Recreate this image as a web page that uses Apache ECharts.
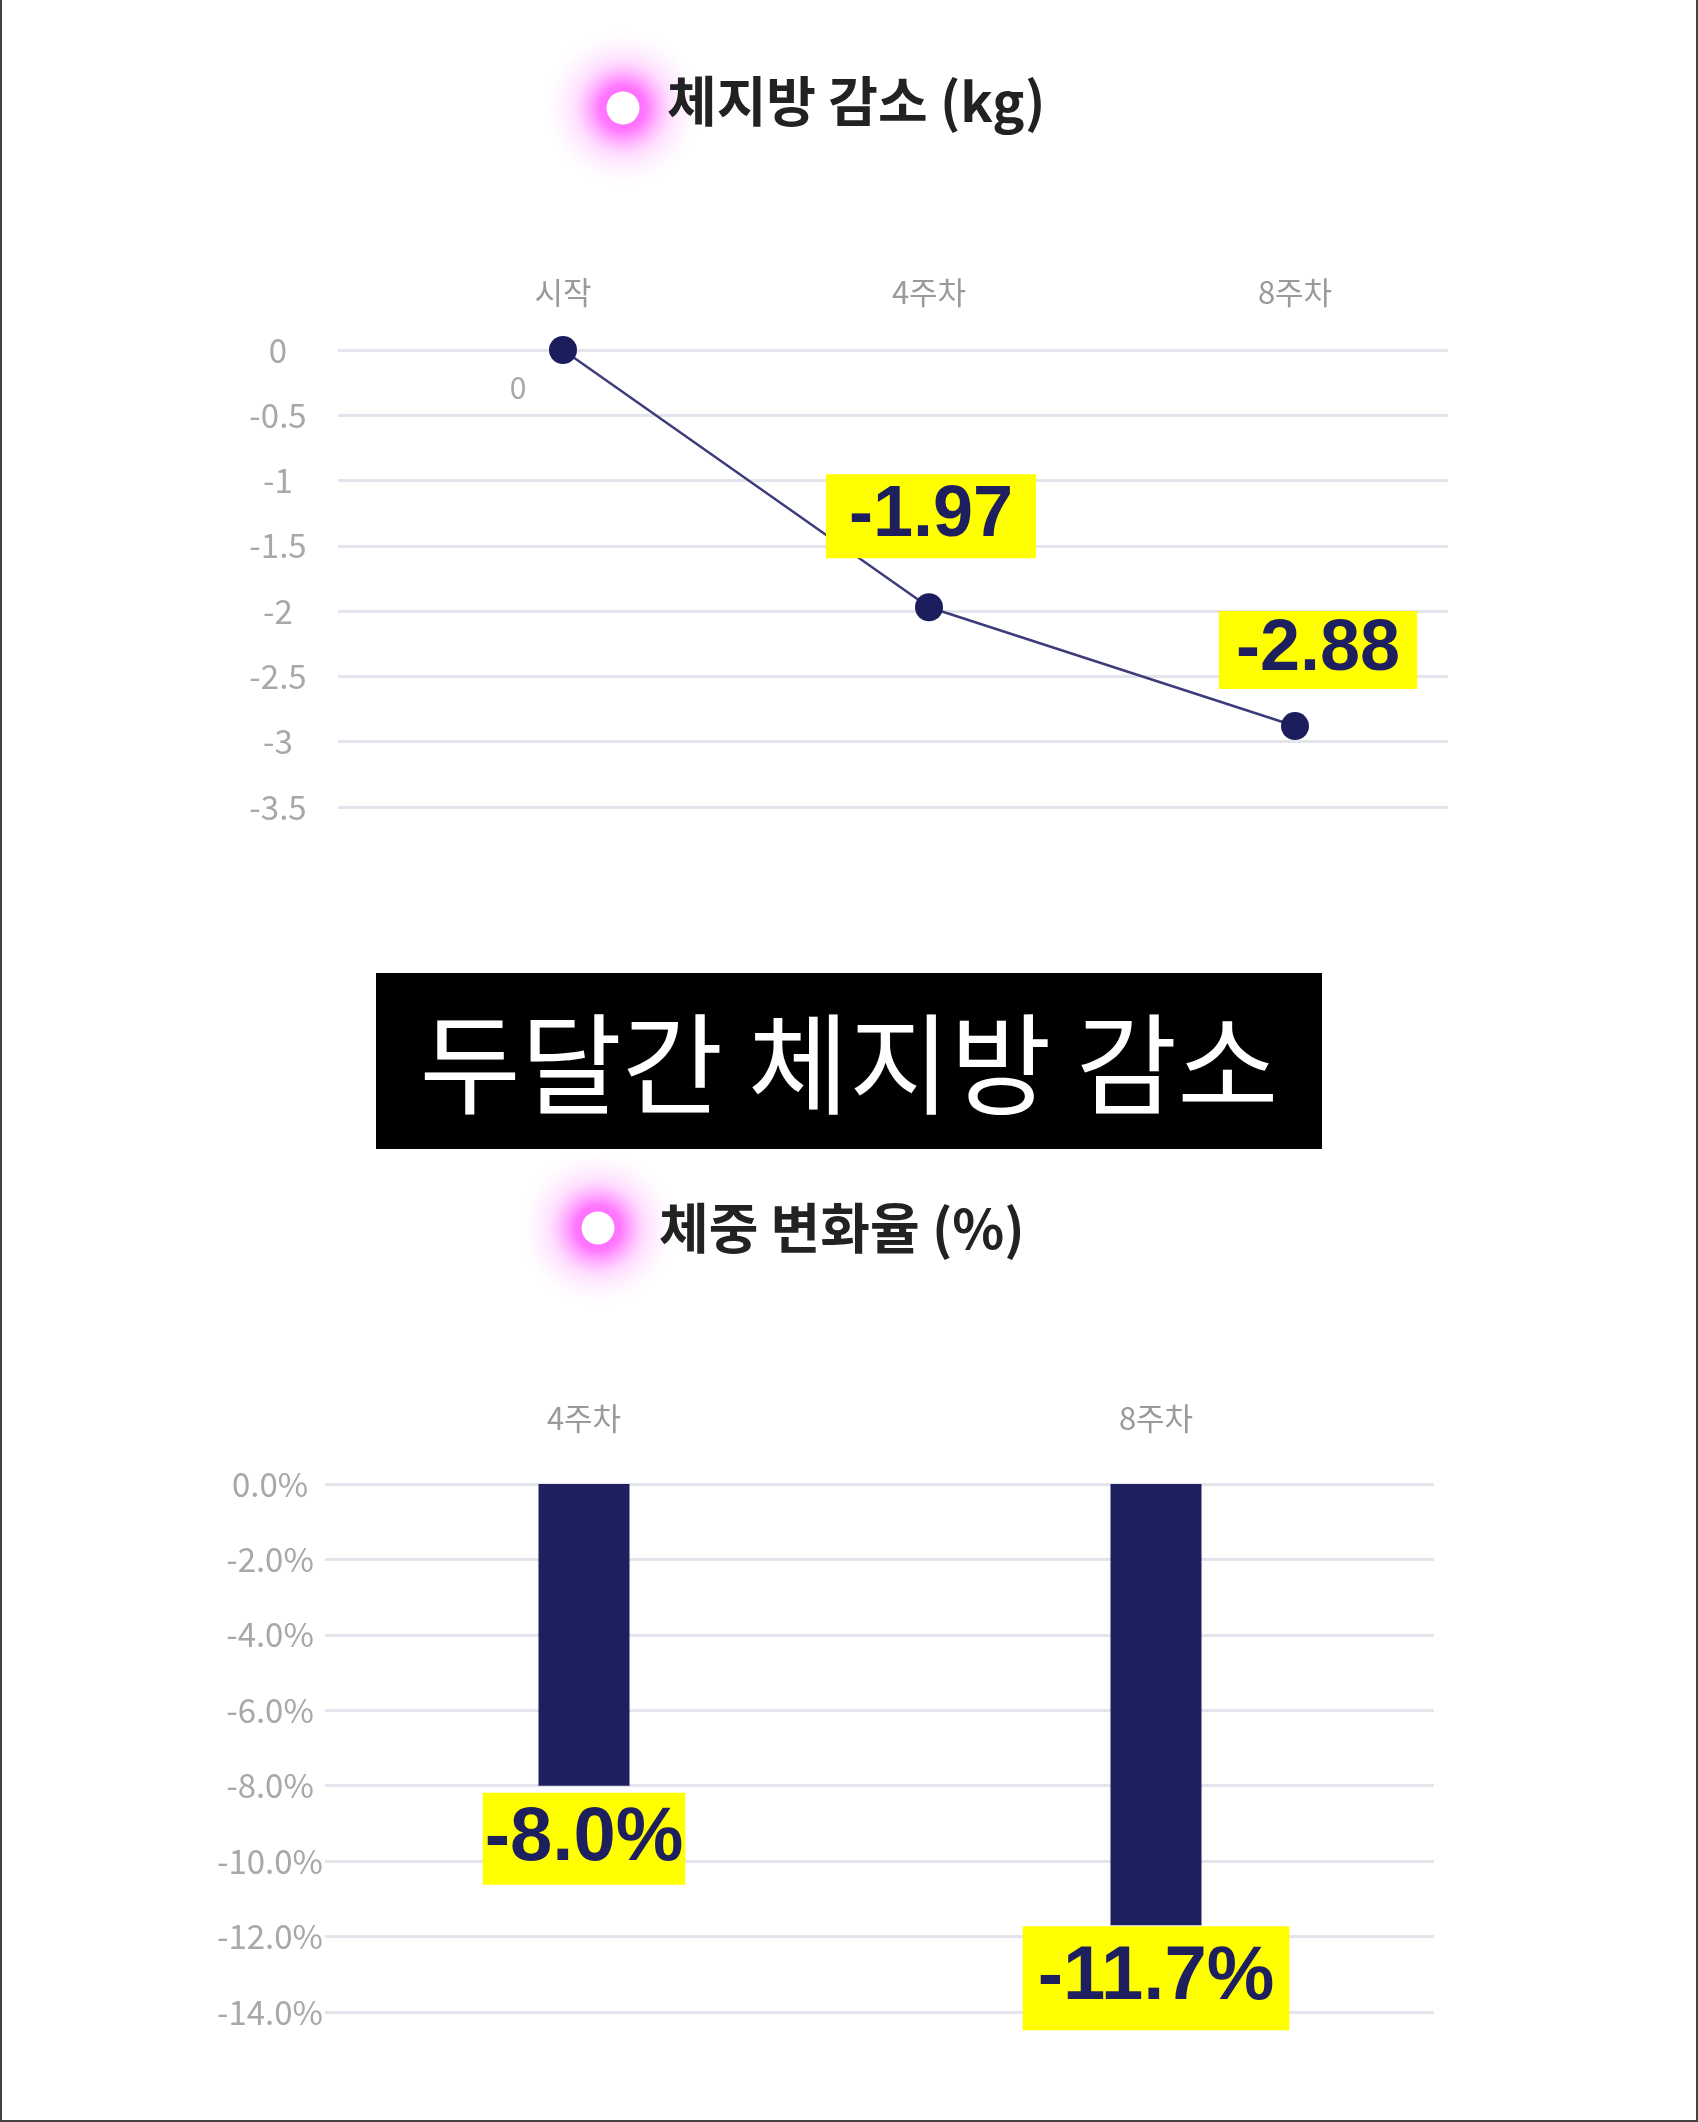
<!DOCTYPE html>
<html>
<head>
<meta charset="utf-8">
<script src="https://cdn.jsdelivr.net/npm/echarts@6/dist/echarts.min.js"></script>
<style>
html,body{margin:0;padding:0;background:#fff;}
#c{width:1698px;height:2122px;}
</style>
</head>
<body>
<div id="c"></div>
<script>
// ---- data ----
var fatCategories = ['시작', '4주차', '8주차'];
var fatValues = [0, -1.97, -2.88];
var fatTicks = { min: -3.5, max: 0, interval: 0.5 };

var weightCategories = ['4주차', '8주차'];
var weightValues = [-8.0, -11.7];
var weightTicks = { min: -14, max: 0, interval: 2 };

var titleTop = '체지방 감소 (kg)';
var titleBottom = '체중 변화율 (%)';
var bannerText = '두달간 체지방 감소';

// ---- styles ----
var NAVY = '#1e1f5e';
var YELLOW = '#ffff00';
var LABEL_FONT = '"Liberation Sans", Arial, sans-serif';
var KFONT = '"Noto Sans CJK KR", "Noto Sans", sans-serif';

var fatLabelStyles = [
  { show: true, position: 'bottom', distance: 9, offset: [-45, 0], color: '#a8a8a8', fontSize: 30, fontFamily: KFONT, fontWeight: 'normal', backgroundColor: 'transparent', padding: 0 },
  { show: true, position: 'top', distance: 35, offset: [2, 0], padding: [6, 23] },
  { show: true, position: 'top', distance: 23, offset: [23, 0], padding: [3, 17] }
];
var weightLabelStyles = [
  { distance: 7, padding: [8, 2] },
  { distance: 1, padding: [14, 15] }
];

var chart = echarts.init(document.getElementById('c'), null, { renderer: 'canvas' });

function glowDot(cx, cy) {
  return [
    { type: 'circle', shape: { cx: cx, cy: cy, r: 78 }, silent: true,
      style: { fill: { type: 'radial', x: 0.5, y: 0.5, r: 0.5, colorStops: [
        { offset: 0, color: 'rgba(255,80,255,1)' },
        { offset: 0.3, color: 'rgba(255,100,255,0.85)' },
        { offset: 0.6, color: 'rgba(255,160,255,0.35)' },
        { offset: 1, color: 'rgba(255,220,255,0)' } ] } } },
    { type: 'circle', shape: { cx: cx, cy: cy, r: 16.5 }, silent: true, style: { fill: '#ffffff' } }
  ];
}

var graphics = [].concat(
  glowDot(623, 108),
  [{ type: 'text', x: 667, y: 101, silent: true,
     style: { text: titleTop, font: 'bold 54px ' + KFONT, fill: '#222222', textAlign: 'left', textVerticalAlign: 'middle' } }],
  glowDot(598, 1228),
  [{ type: 'text', x: 659, y: 1228, silent: true,
     style: { text: titleBottom, font: 'bold 54px ' + KFONT, fill: '#222222', textAlign: 'left', textVerticalAlign: 'middle' } }],
  [
    { type: 'rect', shape: { x: 376, y: 973, width: 946, height: 176 }, style: { fill: '#000000' }, silent: true },
    { type: 'text', x: 849, y: 1064, silent: true,
      style: { text: bannerText, font: 'normal 110px ' + KFONT, fill: '#ffffff', textAlign: 'center', textVerticalAlign: 'middle' } },
    { type: 'rect', shape: { x: 0, y: 0, width: 2, height: 2122 }, style: { fill: '#444444' }, silent: true },
    { type: 'rect', shape: { x: 1696, y: 0, width: 2, height: 2122 }, style: { fill: '#444444' }, silent: true },
    { type: 'rect', shape: { x: 0, y: 2120, width: 1698, height: 2 }, style: { fill: '#444444' }, silent: true }
  ]
);

var gridLine = { show: true, lineStyle: { color: '#e4e4ec', width: 3 } };

var option = {
  backgroundColor: '#ffffff',
  animation: false,
  graphic: graphics,
  grid: [
    { left: 338, top: 350, width: 1110, height: 457 },
    { left: 380, top: 350, width: 1098, height: 457 },
    { left: 325, top: 1484, width: 1109, height: 528 },
    { left: 298, top: 1484, width: 1144, height: 528 }
  ],
  xAxis: [
    { gridIndex: 0, type: 'category', data: fatCategories, show: false },
    { gridIndex: 1, type: 'category', data: fatCategories, position: 'top', boundaryGap: true,
      axisLine: { show: false }, axisTick: { show: false }, splitLine: { show: false },
      axisLabel: { color: '#9a9a9a', fontSize: 31, fontFamily: KFONT, margin: 42 } },
    { gridIndex: 2, type: 'category', data: weightCategories, show: false },
    { gridIndex: 3, type: 'category', data: weightCategories, position: 'top', boundaryGap: true,
      axisLine: { show: false }, axisTick: { show: false }, splitLine: { show: false },
      axisLabel: { color: '#9a9a9a', fontSize: 31, fontFamily: KFONT, margin: 50 } }
  ],
  yAxis: [
    { gridIndex: 0, type: 'value', min: fatTicks.min, max: fatTicks.max, interval: fatTicks.interval,
      axisLine: { show: false }, axisTick: { show: false }, splitLine: gridLine,
      axisLabel: { color: '#a8a8a8', fontSize: 33, fontFamily: KFONT, align: 'center', margin: 60 } },
    { gridIndex: 1, type: 'value', min: fatTicks.min, max: fatTicks.max, show: false, splitLine: { show: false } },
    { gridIndex: 2, type: 'value', min: weightTicks.min, max: weightTicks.max, interval: weightTicks.interval,
      axisLine: { show: false }, axisTick: { show: false }, splitLine: gridLine,
      axisLabel: { color: '#a8a8a8', fontSize: 33, fontFamily: KFONT, align: 'center', margin: 55,
        formatter: function (v) { return v.toFixed(1) + '%'; } } },
    { gridIndex: 3, type: 'value', min: weightTicks.min, max: weightTicks.max, show: false, splitLine: { show: false } }
  ],
  series: [
    {
      type: 'line', xAxisIndex: 1, yAxisIndex: 1,
      data: fatValues.map(function (v, i) { return { value: v, label: fatLabelStyles[i] }; }),
      symbol: 'circle', symbolSize: 28,
      lineStyle: { color: '#3d3d7c', width: 2.5 },
      itemStyle: { color: '#1b1d5c' },
      label: {
        show: true, position: 'top', color: NAVY, fontSize: 72, fontWeight: 'bold', fontFamily: LABEL_FONT,
        backgroundColor: YELLOW,
        formatter: function (p) { return String(p.value); }
      },
      z: 5
    },
    {
      type: 'bar', xAxisIndex: 3, yAxisIndex: 3,
      data: weightValues.map(function (v, i) { return { value: v, label: weightLabelStyles[i] }; }),
      barWidth: 91,
      itemStyle: { color: NAVY },
      label: {
        show: true, position: 'bottom', color: NAVY, fontSize: 76, fontWeight: 'bold', fontFamily: LABEL_FONT,
        backgroundColor: YELLOW,
        formatter: function (p) { return p.value.toFixed(1) + '%'; }
      },
      z: 5
    }
  ]
};
chart.setOption(option);
</script>
</body>
</html>
